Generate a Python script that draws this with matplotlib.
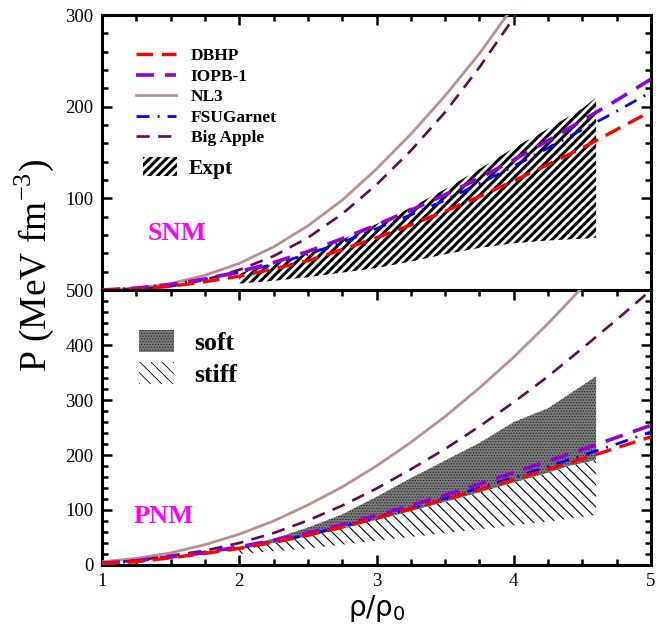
import matplotlib
matplotlib.use("Agg")
import matplotlib.pyplot as plt
from matplotlib.lines import Line2D
from matplotlib.patches import Patch
from matplotlib.ticker import MultipleLocator

# density grid (rho/rho0) for the model curves
RHO = [1.0, 1.25, 1.5, 1.75, 2.0, 2.25, 2.5, 2.75, 3.0, 3.25, 3.5, 3.75, 4.0, 4.25, 4.5, 4.75, 5.0]

# symmetric nuclear matter (MeV fm^-3)
snm_dbhp = [0, 1, 4, 9, 15, 23, 32, 44, 57, 71, 86, 102, 119, 137, 155, 175, 195]
snm_iopb = [0, 2, 6, 12, 20, 30, 42, 56, 71, 87, 104, 122, 142, 163, 185, 207, 230]
snm_nl3 = [0, 2, 7, 16, 29, 47, 70, 98, 132, 170, 212, 258, 310, 368, 430, 497, 570]
snm_fsug = [0, 2, 6, 12, 19, 28, 39, 52, 67, 82, 98, 116, 135, 155, 175, 195, 216]
snm_bigapple = [0, 1, 4, 11, 22, 37, 57, 83, 115, 152, 194, 243, 297, 356, 420, 490, 565]

# pure neutron matter (MeV fm^-3)
pnm_dbhp = [2, 6, 13, 21, 30, 41, 54, 69, 85, 102, 119, 137, 155, 174, 193, 213, 233]
pnm_iopb = [3, 8, 15, 23, 33, 45, 58, 73, 90, 108, 127, 147, 168, 189, 210, 232, 254]
pnm_nl3 = [6, 12, 22, 37, 56, 80, 109, 142, 180, 223, 270, 322, 378, 439, 505, 575, 650]
pnm_fsug = [3, 7, 14, 22, 31, 42, 55, 70, 86, 103, 121, 140, 159, 179, 199, 220, 242]
pnm_bigapple = [4, 8, 17, 26, 40, 58, 81, 108, 139, 174, 211, 252, 296, 343, 394, 446, 500]

# experimental constraints
EXPT_RHO = [2.0, 2.25, 2.5, 2.75, 3.0, 3.25, 3.5, 3.75, 4.0, 4.25, 4.5, 4.6]
expt_lo = [7, 10, 14, 19, 24, 31, 39, 46, 51, 54, 56, 57]
expt_hi = [18, 28, 40, 55, 72, 90, 110, 132, 155, 176, 198, 210]

BAND_RHO = [2.0, 2.25, 2.5, 2.75, 3.0, 3.25, 3.5, 3.75, 4.0, 4.25, 4.4, 4.6]
soft_lo = [28, 40, 52, 66, 82, 98, 115, 132, 150, 168, 180, 191]
soft_hi = [33, 48, 68, 92, 124, 158, 190, 222, 260, 285, 310, 343]
stiff_lo = [20, 25, 30, 37, 44, 51, 58, 65, 72, 79, 84, 91]

models = ["DBHP", "IOPB-1", "NL3", "FSUGarnet", "Big Apple"]
colors = ["#ff0000", "#9400d3", "#bc8f8f", "#0000ff", "#660a4f"]
widths = [2.4, 2.6, 2.0, 2.0, 1.9]
styles = [(0, (5, 2.6)), (0, (5, 3)), "-", (0, (4.7, 2.9, 0.7, 2.9)), (0, (5, 3.2))]

plt.rcParams["font.family"] = "Liberation Serif"
plt.rcParams["mathtext.fontset"] = "custom"
plt.rcParams["mathtext.rm"] = "Liberation Serif"
plt.rcParams["mathtext.sf"] = "DejaVu Sans"

fig = plt.figure(figsize=(6.56, 6.31), dpi=100)
ax1 = fig.add_axes([0.1555, 0.5404, 0.8369, 0.4358])
ax2 = fig.add_axes([0.1555, 0.1046, 0.8369, 0.4358])


def hatch_lw(artist, lw):
    if hasattr(artist, "set_hatch_linewidth"):
        artist.set_hatch_linewidth(lw)


# bands
plt.rcParams["hatch.linewidth"] = 2.2
ex = ax1.fill_between(EXPT_RHO, expt_lo, expt_hi, facecolor="white", edgecolor="black",
                      hatch="////", linewidth=0, zorder=1)
hatch_lw(ex, 2.2)

plt.rcParams["hatch.linewidth"] = 0.8
st = ax2.fill_between(BAND_RHO, stiff_lo, soft_lo, facecolor="white", edgecolor="black",
                      hatch="\\\\\\", linewidth=0, zorder=1)
hatch_lw(st, 0.8)
plt.rcParams["hatch.linewidth"] = 0.6
so = ax2.fill_between(BAND_RHO, soft_lo, soft_hi, facecolor="#7c7c7c", edgecolor="#222222",
                      hatch="......", linewidth=0, zorder=1)
hatch_lw(so, 0.6)

snm = [snm_dbhp, snm_iopb, snm_nl3, snm_fsug, snm_bigapple]
pnm = [pnm_dbhp, pnm_iopb, pnm_nl3, pnm_fsug, pnm_bigapple]
order = [2, 4, 3, 1, 0]
for i in order:
    ax1.plot(RHO, snm[i], color=colors[i], lw=widths[i], ls=styles[i], zorder=3)
    ax2.plot(RHO, pnm[i], color=colors[i], lw=widths[i], ls=styles[i], zorder=3)

# axes styling
for ax in (ax1, ax2):
    ax.set_xlim(1, 5)
    ax.xaxis.set_major_locator(MultipleLocator(1))
    ax.xaxis.set_minor_locator(MultipleLocator(0.25))
    ax.yaxis.set_major_locator(MultipleLocator(100))
    ax.yaxis.set_minor_locator(MultipleLocator(20))
    for s in ax.spines.values():
        s.set_linewidth(2.2)
    ax.tick_params(which="major", direction="in", length=7, width=1.8, labelsize=13.5, pad=6)
    ax.tick_params(which="minor", direction="in", length=4, width=1.8)
    ax.tick_params(which="both", left=True, right=True)

ax1.set_ylim(0, 300)
ax1.set_yticks([100, 200, 300])
ax1.tick_params(which="both", top=True, bottom=False, labelbottom=False)
ax2.set_ylim(0, 500)
ax2.tick_params(which="both", top=True, bottom=True)

ax1.text(1.335, 62, "SNM", color="#ff00ff", fontsize=19, fontweight="bold", va="center")
ax2.text(1.233, 89, "PNM", color="#ff00ff", fontsize=19, fontweight="bold", va="center")

# legends
handles = [Line2D([], [], color=colors[i], lw=widths[i], ls=styles[i]) for i in range(5)]
leg1 = ax1.legend(handles, models, loc="upper left", bbox_to_anchor=(0.062, 0.880),
                  frameon=False, borderpad=0, borderaxespad=0, handlelength=2.3,
                  handletextpad=0.85, labelspacing=0.25,
                  prop={"weight": "bold", "size": 12.5, "family": "Liberation Serif"})
ax1.add_artist(leg1)
plt.rcParams["hatch.linewidth"] = 2.2
ex_h = Patch(facecolor="white", edgecolor="black", hatch="////", linewidth=0)
ax1.legend([ex_h], ["Expt"], loc="upper left", bbox_to_anchor=(0.0747, 0.484),
           frameon=False, borderpad=0, borderaxespad=0, handlelength=1.6,
           handleheight=1.0, handletextpad=0.53,
           prop={"weight": "bold", "size": 15.5, "family": "Liberation Serif"})

plt.rcParams["hatch.linewidth"] = 0.6
so_h = Patch(facecolor="#7c7c7c", edgecolor="#222222", hatch="......", linewidth=0)
st_h = Patch(facecolor="white", edgecolor="black", hatch="\\\\\\", linewidth=0)
ax2.legend([so_h, st_h], ["soft", "stiff"], loc="upper left", bbox_to_anchor=(0.0674, 0.855),
           frameon=False, borderpad=0, borderaxespad=0, handlelength=1.36,
           handleheight=0.95, handletextpad=0.78, labelspacing=0.28,
           prop={"weight": "bold", "size": 18.5, "family": "Liberation Serif"})

fig.text(0.052, 0.58, r"P (MeV fm$^{\mathrm{-3}}$)", rotation=90, fontsize=27,
         ha="center", va="center")
ax2.set_xlabel(r"ρ/ρ$_\mathsf{0}$", fontsize=20, family="DejaVu Sans", labelpad=2)

fig.savefig("out.png", dpi=100)
